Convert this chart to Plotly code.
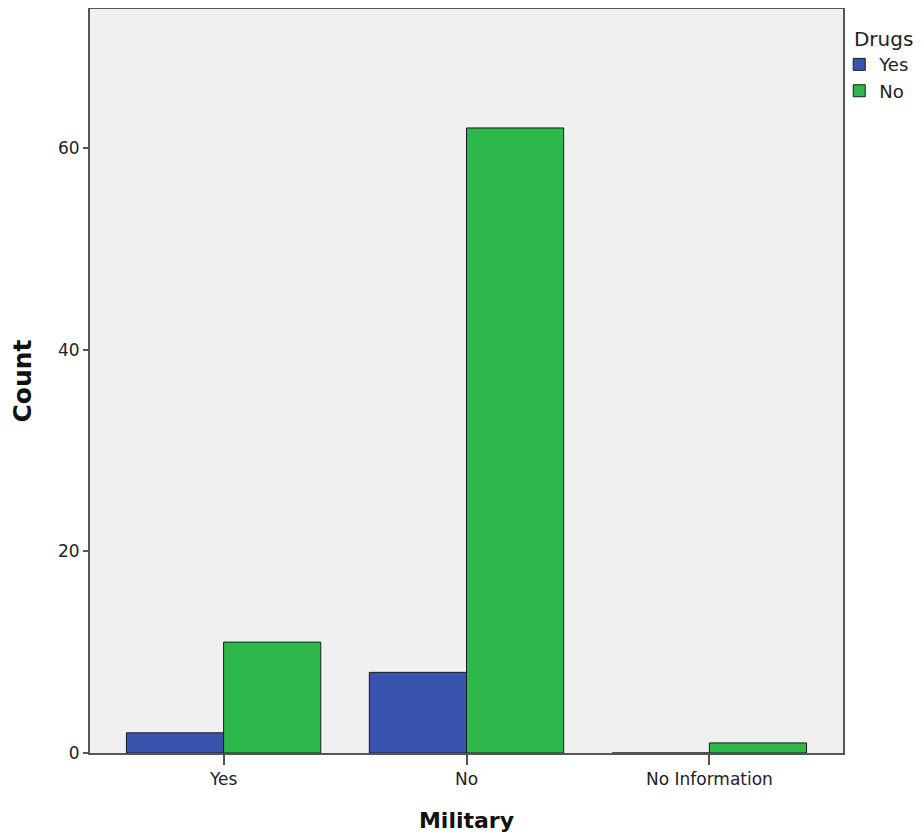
import plotly.graph_objects as go

categories = ["Yes", "No", "No Information"]
drugs_yes = [2, 8, 0]
drugs_no = [11, 62, 1]
y_ticks = [0, 20, 40, 60]

fig = go.Figure()
fig.add_trace(go.Bar(x=categories, y=drugs_yes, name="Yes",
                     marker=dict(color="#3a53ad", line=dict(color="#1a1a1a", width=1))))
fig.add_trace(go.Bar(x=categories, y=drugs_no, name="No",
                     marker=dict(color="#2eb84b", line=dict(color="#1a1a1a", width=1))))

fig.update_layout(
    width=924, height=837,
    barmode="group", bargap=0.2, bargroupgap=0,
    paper_bgcolor="white", plot_bgcolor="#f0f0f0",
    margin=dict(l=82, r=89, t=1, b=92, autoexpand=False),
    font=dict(family="DejaVu Sans, Liberation Sans, sans-serif", size=17, color="#222"),
    legend=dict(title=dict(text="\u00a0\u00a0Drugs", font=dict(size=20)), x=0.995, xanchor="left",
                y=0.985, yanchor="top", font=dict(size=18), tracegroupgap=0,
                itemwidth=30, bgcolor="rgba(0,0,0,0)"),
    showlegend=True,
)
fig.update_xaxes(
    range=[-0.55, 2.55], showline=True, linecolor="#555", linewidth=2, mirror=True,
    ticks="outside", ticklen=10, tickcolor="#555", tickwidth=2,
    showgrid=False,
    title=dict(text="<b>Military</b>", font=dict(size=22, color="#111"), standoff=24),
)
fig.update_yaxes(
    range=[0, 73.8], tickvals=y_ticks, showline=True, linecolor="#555", linewidth=2, mirror=True,
    ticks="outside", ticklen=5, tickcolor="#555", tickwidth=2,
    showgrid=False, zeroline=False,
    title=dict(text="<b>Count</b>", font=dict(size=25, color="#111"), standoff=20),
)
fig.write_html("out.html")
